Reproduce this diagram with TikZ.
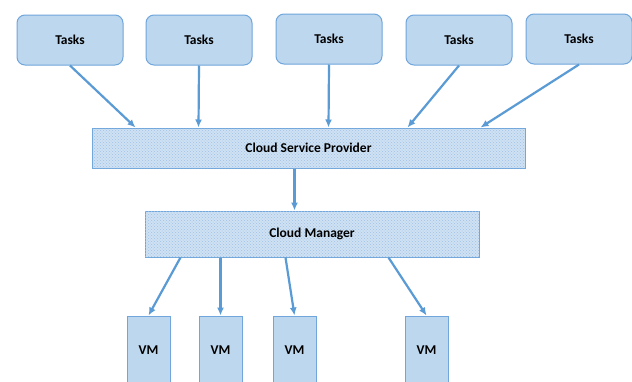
\documentclass[tikz,border=0pt]{standalone}
\usepackage{fontspec}
\setmainfont{Carlito}
\usetikzlibrary{patterns,arrows.meta}

\definecolor{taskfill}{HTML}{BDD7EE}
\definecolor{taskline}{HTML}{70A6DB}
\definecolor{arrowblue}{HTML}{5B9BD5}
\definecolor{dotfill}{HTML}{CFE1F2}
\definecolor{dotcol}{HTML}{9EC2E6}

\begin{document}
\begin{tikzpicture}[x=1pt,y=-1pt,
    every node/.style={font=\fontsize{13.5}{15}\selectfont\bfseries, inner sep=0pt},
    task/.style={draw=taskline, line width=1pt, fill=taskfill, rounded corners=8pt,
      minimum width=106pt, minimum height=50pt},
    layer/.style={draw=taskline, line width=1pt, fill=dotfill,
      postaction={pattern=crosshatch dots, pattern color=dotcol}},
    vm/.style={draw=taskline, line width=1pt, fill=taskfill,
      minimum width=43pt, minimum height=68pt},
    link/.style={draw=arrowblue, line width=2.2pt, -{Latex[length=8pt,width=7pt]}}]
  \useasboundingbox (0,0) rectangle (632,381);
  \clip (0,0) rectangle (632,381);
  \fill[white] (0,0) rectangle (632,381);

  % tasks
  \node[task] (t1) at (70,40) {Tasks};
  \node[task] (t2) at (199,40) {Tasks};
  \node[task] (t3) at (329,39) {Tasks};
  \node[task] (t4) at (459,40) {Tasks};
  \node[task] (t5) at (579,39) {Tasks};

  % middle layers
  \node[layer, minimum width=433pt, minimum height=40pt] (csp) at (308.5,148) {Cloud Service Provider};
  \node[layer, minimum width=334pt, minimum height=46pt] (cm) at (312,234) {Cloud Manager};

  % virtual machines
  \node[vm] (vm1) at (148.5,350) {VM};
  \node[vm] (vm2) at (220.5,350) {VM};
  \node[vm] (vm3) at (294.5,350) {VM};
  \node[vm] (vm4) at (426.5,350) {VM};

  % arrows
  \draw[link] (t1.south) -- ([xshift=44pt]csp.north west);
  \draw[link] (t2.south) -- ([xshift=107pt]csp.north west);
  \draw[link] (t3.south) -- ([xshift=237pt]csp.north west);
  \draw[link] (t4.south) -- ([xshift=316pt]csp.north west);
  \draw[link] (t5.south) -- ([xshift=389pt]csp.north west);
  \draw[link] ([xshift=203pt]csp.south west) -- ([xshift=150pt]cm.north west);
  \draw[link] ([xshift=36pt]cm.south west) -- (vm1.north);
  \draw[link] ([xshift=76pt]cm.south west) -- (vm2.north);
  \draw[link] ([xshift=141pt]cm.south west) -- (vm3.north);
  \draw[link] ([xshift=244pt]cm.south west) -- (vm4.north);
\end{tikzpicture}
\end{document}
